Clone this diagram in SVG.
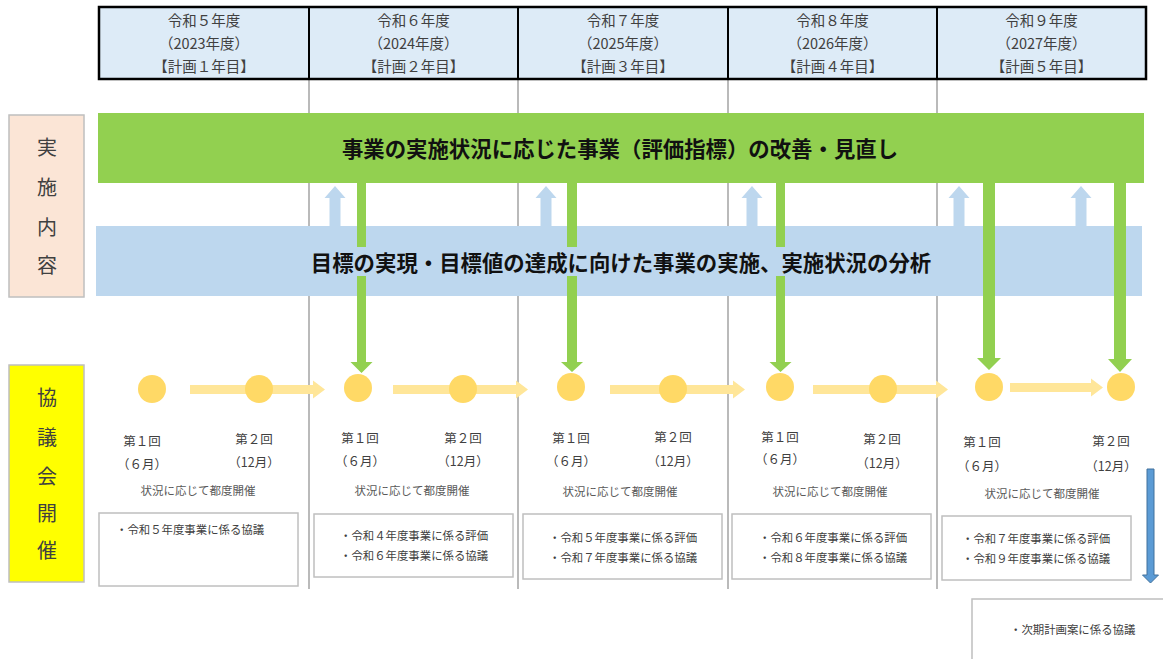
<svg xmlns="http://www.w3.org/2000/svg" width="1163" height="659" viewBox="0 0 1163 659">
<style>
text{font-family:"Noto Sans CJK JP","Noto Sans",sans-serif;text-anchor:middle;dominant-baseline:central}
.hd{font-size:14.5px;fill:#404040}
.side{font-size:20px;fill:#404040}
.bar{font-size:21.4px;font-weight:bold;fill:#111}
.lbl{font-size:12.5px;fill:#404040}
.sit{font-size:11.5px;fill:#595959}
.bx{font-size:11.4px;fill:#404040;text-anchor:start}
.box{fill:#fff;stroke:#BFBFBF;stroke-width:1.5}
.vl{stroke:#8C8C8C;stroke-width:1.2}
.cir{fill:#FFD966}
.ya{fill:#FFE699}
.ga{fill:#92D050}
.ba{fill:#BDD7EE}
</style>
<rect width="1163" height="659" fill="#fff"/>
<g id="gridlines">
<line class="vl" x1="309" y1="79" x2="309" y2="589"/>
<line class="vl" x1="518" y1="79" x2="518" y2="589"/>
<line class="vl" x1="728" y1="79" x2="728" y2="589"/>
<line class="vl" x1="937" y1="79" x2="937" y2="589"/>
</g>
<g id="header">
<rect x="99" y="7" width="1047" height="72" fill="#DDEBF7" stroke="#000" stroke-width="2.5"/>
<line x1="309" y1="7" x2="309" y2="79" stroke="#000" stroke-width="2"/>
<line x1="518" y1="7" x2="518" y2="79" stroke="#000" stroke-width="2"/>
<line x1="728" y1="7" x2="728" y2="79" stroke="#000" stroke-width="2"/>
<line x1="937" y1="7" x2="937" y2="79" stroke="#000" stroke-width="2"/>
<g id="year1"><text class="hd" x="204" y="19">令和５年度</text><text class="hd" x="204" y="42">（2023年度）</text><text class="hd" x="204" y="65">【計画１年目】</text></g>
<g id="year2"><text class="hd" x="413.5" y="19">令和６年度</text><text class="hd" x="413.5" y="42">（2024年度）</text><text class="hd" x="413.5" y="65">【計画２年目】</text></g>
<g id="year3"><text class="hd" x="623" y="19">令和７年度</text><text class="hd" x="623" y="42">（2025年度）</text><text class="hd" x="623" y="65">【計画３年目】</text></g>
<g id="year4"><text class="hd" x="832.5" y="19">令和８年度</text><text class="hd" x="832.5" y="42">（2026年度）</text><text class="hd" x="832.5" y="65">【計画４年目】</text></g>
<g id="year5"><text class="hd" x="1041.5" y="19">令和９年度</text><text class="hd" x="1041.5" y="42">（2027年度）</text><text class="hd" x="1041.5" y="65">【計画５年目】</text></g>
</g>
<g id="label-jisshi">
<rect x="9" y="115" width="75" height="182" fill="#FBE5D6" stroke="#BFBFBF" stroke-width="1.5"/>
<text class="side" x="47" y="146">実</text><text class="side" x="47" y="186">施</text><text class="side" x="47" y="226">内</text><text class="side" x="47" y="264">容</text>
</g>
<g id="label-kyogikai">
<rect x="9" y="365" width="75" height="217" fill="#FFFF00" stroke="#BFBFBF" stroke-width="1.5"/>
<text class="side" x="47" y="396">協</text><text class="side" x="47" y="436">議</text><text class="side" x="47" y="475">会</text><text class="side" x="47" y="512">開</text><text class="side" x="47" y="549">催</text>
</g>
<g id="bar-green"><rect x="98" y="113" width="1046" height="70" fill="#92D050"/></g>
<g id="bar-blue"><rect x="96" y="226" width="1046" height="70" fill="#BDD7EE"/></g>
<g id="connectors">
<path class="ba" d="M329.5 226V198H324.5L335 186L345.5 198H340.5V226Z"/>
<path class="ba" d="M540.5 226V198H535.5L546 186L556.5 198H551.5V226Z"/>
<path class="ba" d="M746.5 226V198H741.5L752 186L762.5 198H757.5V226Z"/>
<path class="ba" d="M953.5 226V198H948.5L959 186L969.5 198H964.5V226Z"/>
<path class="ba" d="M1075.5 226V198H1070.5L1081 186L1091.5 198H1086.5V226Z"/>
<path class="ga" d="M357 183H366V362H372.5L361.5 373L350.5 362H357Z"/>
<path class="ga" d="M567 183H577V362H583L572 372L561 362H567Z"/>
<path class="ga" d="M776 183H785V362H791.5L780.5 372L769.5 362H776Z"/>
<path class="ga" d="M983 183H995V358H1001L989 370L977 358H983Z"/>
<path class="ga" d="M1114 183H1126V359H1132L1120 372L1108 359H1114Z"/>
<path class="ya" d="M190 385H313V380.5L325 389.5L313 398.5V394H190Z"/>
<path class="ya" d="M393 385H516V380.5L528 389.5L516 398.5V394H393Z"/>
<path class="ya" d="M610 385H733V380.5L745 389.5L733 398.5V394H610Z"/>
<path class="ya" d="M813 385H936V380.5L948 389.5L936 398.5V394H813Z"/>
<path class="ya" d="M1010 383H1091V378.5L1103 387.5L1091 396.5V392H1010Z"/>
<path d="M1147 469H1154V575H1158.5L1150.5 583L1142.5 575H1147Z" fill="#5B9BD5" stroke="#41719C" stroke-width="1"/>
</g>
<g id="bar-green-text"><text class="bar" x="620" y="147">事業の実施状況に応じた事業（評価指標）の改善・見直し</text></g>
<g id="bar-blue-text">
<rect x="308" y="247" width="627" height="29" fill="#BDD7EE"/>
<text class="bar" x="621" y="261">目標の実現・目標値の達成に向けた事業の実施、実施状況の分析</text>
</g>
<g id="meetings-y1">
<circle class="cir" cx="152" cy="389" r="14"/><circle class="cir" cx="259" cy="389" r="14"/>
<text class="lbl" x="142" y="440">第１回</text><text class="lbl" x="142" y="463">（６月）</text>
<text class="lbl" x="254" y="438">第２回</text><text class="lbl" x="254" y="461">（12月）</text>
<text class="sit" x="198" y="490">状況に応じて都度開催</text>
</g>
<g id="meetings-y2">
<circle class="cir" cx="358" cy="388" r="14"/><circle class="cir" cx="463" cy="389" r="14"/>
<text class="lbl" x="360" y="437">第１回</text><text class="lbl" x="360" y="460">（６月）</text>
<text class="lbl" x="463" y="437">第２回</text><text class="lbl" x="463" y="460">（12月）</text>
<text class="sit" x="412" y="490">状況に応じて都度開催</text>
</g>
<g id="meetings-y3">
<circle class="cir" cx="571" cy="387" r="14"/><circle class="cir" cx="673" cy="389" r="14"/>
<text class="lbl" x="571" y="437">第１回</text><text class="lbl" x="571" y="460">（６月）</text>
<text class="lbl" x="673" y="436">第２回</text><text class="lbl" x="673" y="460">（12月）</text>
<text class="sit" x="620" y="491">状況に応じて都度開催</text>
</g>
<g id="meetings-y4">
<circle class="cir" cx="780" cy="387" r="14"/><circle class="cir" cx="883" cy="389" r="14"/>
<text class="lbl" x="780" y="436">第１回</text><text class="lbl" x="780" y="458">（６月）</text>
<text class="lbl" x="882" y="438">第２回</text><text class="lbl" x="882" y="462">（12月）</text>
<text class="sit" x="830" y="491">状況に応じて都度開催</text>
</g>
<g id="meetings-y5">
<circle class="cir" cx="989" cy="387" r="14"/><circle class="cir" cx="1121" cy="387" r="14"/>
<text class="lbl" x="982" y="441">第１回</text><text class="lbl" x="982" y="465">（６月）</text>
<text class="lbl" x="1111" y="440">第２回</text><text class="lbl" x="1111" y="465">（12月）</text>
<text class="sit" x="1042" y="493">状況に応じて都度開催</text>
</g>
<g id="box-y1"><rect class="box" x="99" y="513" width="199" height="73"/><text class="bx" x="116" y="529">・令和５年度事業に係る協議</text></g>
<g id="box-y2"><rect class="box" x="314" y="514" width="199" height="63"/><text class="bx" x="340" y="535">・令和４年度事業に係る評価</text><text class="bx" x="340" y="555">・令和６年度事業に係る協議</text></g>
<g id="box-y3"><rect class="box" x="523" y="514" width="199" height="65"/><text class="bx" x="549" y="537">・令和５年度事業に係る評価</text><text class="bx" x="549" y="557">・令和７年度事業に係る協議</text></g>
<g id="box-y4"><rect class="box" x="732" y="514" width="199" height="65"/><text class="bx" x="759" y="537">・令和６年度事業に係る評価</text><text class="bx" x="759" y="557">・令和８年度事業に係る協議</text></g>
<g id="box-y5"><rect class="box" x="942" y="516" width="189" height="64"/><text class="bx" x="962" y="538">・令和７年度事業に係る評価</text><text class="bx" x="962" y="558">・令和９年度事業に係る協議</text></g>
<g id="box-next"><rect class="box" x="972" y="599" width="200" height="70"/><text class="bx" x="1010" y="629">・次期計画案に係る協議</text></g>
</svg>
